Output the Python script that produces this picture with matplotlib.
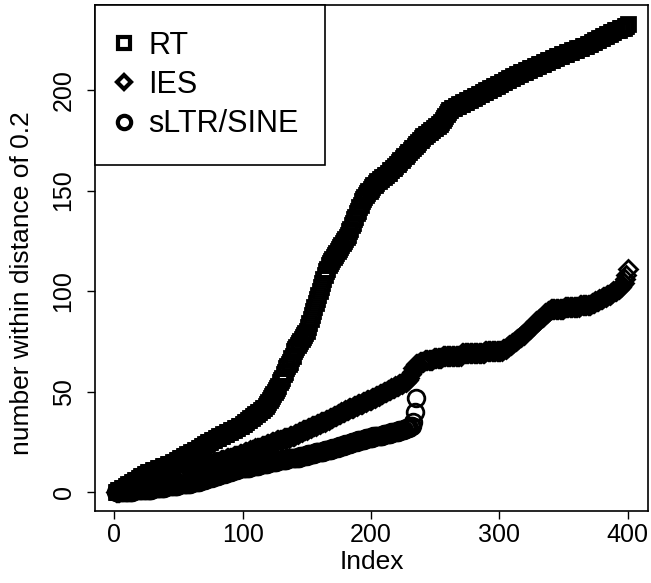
import matplotlib
matplotlib.use('Agg')
import matplotlib.pyplot as plt
from matplotlib.lines import Line2D
import numpy as np

# values, one per index
rt = [0, 0, 1, 1, 1, 2, 2, 2, 3, 3,
      4, 4, 4, 5, 5, 6, 6, 6, 7, 7, 8, 8, 8, 9,
      9, 10, 10, 10, 10, 11, 11, 11, 11, 12, 12, 12, 12, 13, 13, 13, 13, 14, 14, 14, 14, 15, 15, 15, 16, 16,
      17, 17, 17, 18, 18, 18, 19, 19, 19, 20, 20, 20, 21, 21, 21, 22, 22, 23, 23, 23, 24, 24, 25,
      25, 25, 26, 26, 26, 27, 27, 27, 28, 28, 28, 29, 29, 29, 30, 30, 30, 31, 31, 31, 32, 32, 32, 33, 33, 33,
      34, 34, 35, 35, 36, 36, 37, 37, 38, 38, 39, 39, 40, 40, 41, 41, 42, 42, 43, 44,
      45, 46, 47, 48, 49, 50, 51, 52, 53, 55, 56, 57, 59,
      60, 62, 63, 64, 65, 67, 68, 70,
      71, 72, 73, 74, 75, 76, 77, 78, 79, 80,
      82, 84, 86, 88, 90, 92, 94, 96,
      98, 100, 102, 104, 106, 108, 110, 111, 113,
      114, 115, 116, 117, 118, 119, 120, 121, 122, 123, 124, 125, 126, 127, 128, 130,
      131, 133, 134, 136, 137, 139, 140, 142, 143, 145, 146,
      147, 148, 149, 150, 150, 151, 152, 153, 153, 154, 155,
      155, 156, 156, 157, 157, 158, 158, 159, 159, 160, 160, 161, 161, 162,
      163, 163, 164, 165, 165, 166, 167, 167, 168, 169, 169, 170, 171, 171, 172, 173, 173, 174, 175, 175,
      176, 177, 177, 178, 178, 179,
      179, 180, 180, 181, 181, 182, 182, 183, 183, 184,
      185, 186, 187, 188, 189, 190, 190,
      191, 191, 191, 192, 192, 192, 193, 193, 193,
      194, 194, 194, 195, 195, 195, 196, 196, 196, 197, 197, 197, 198, 198, 198, 199, 199, 199, 200, 200,
      200, 201, 201, 201, 202, 202,
      202, 203, 203, 203, 204, 204, 204, 205, 205, 205, 206, 206, 206, 207, 207, 207, 208, 208, 208, 209,
      209, 209, 209,
      210, 210, 210, 211, 211, 211, 211, 212, 212, 212, 213, 213, 213, 213, 214, 214, 214, 215, 215, 215,
      215, 216, 216, 216, 217, 217, 217, 217,
      218, 218, 218, 218, 219, 219, 219, 219, 220, 220, 220, 220, 221, 221, 221, 221, 222, 222, 222, 222,
      223, 223, 223,
      224, 224, 224, 225, 225, 225, 226, 226, 226, 227, 227, 227, 228, 228, 228, 229, 229, 229, 230, 230,
      230, 230, 231, 231, 231, 231,
      232, 232, 233]

ies = [0, 0, 0, 0, 1, 1, 1, 1, 1, 2, 2, 2, 2, 2, 3, 3, 3, 3, 4, 4, 4, 4, 5, 5,
       5, 5, 5, 5, 6, 6, 6, 6, 6, 6, 7, 7, 7, 7, 7, 7, 8, 8, 8, 8, 8, 8, 9, 9, 9, 9,
       9, 9, 10, 10, 10, 10, 10, 11, 11, 11, 11, 11, 12, 12, 12, 12, 12, 13, 13, 13, 13, 13, 14, 14,
       14, 14, 14, 15, 15, 15, 15, 15, 16, 16,
       16, 16, 16, 17, 17, 17, 17, 17, 18, 18, 18, 18, 18, 19, 19, 19,
       19, 20, 20, 20, 20, 21, 21, 21, 21, 22, 22, 22, 22, 22, 23, 23, 23, 23, 24, 24, 24, 24, 25, 25,
       25, 25, 26, 26, 26,
       26, 26, 27, 27, 27, 27, 27, 28, 28, 28, 28,
       29, 29, 29, 30, 30, 30, 31, 31, 31, 31, 32, 32, 32, 33, 33, 33, 33, 34, 34, 34, 35, 35, 35, 35,
       36, 36, 36,
       37, 37, 37, 38, 38, 38, 39, 39, 39, 40, 40, 40, 41, 41, 41, 42, 42, 42, 42, 43, 43, 43, 44, 44,
       44, 44, 45, 45, 45, 46, 46, 46, 46,
       47, 47, 47, 48, 48, 48, 49, 49, 49, 50, 50, 50, 51, 51, 51, 52, 52, 52, 53, 53, 53, 54, 54, 54,
       55, 55, 55, 56, 56, 57,
       59, 60, 62, 63, 64,
       64, 64, 65, 65, 65, 65, 66, 66, 66, 66,
       66, 66, 66, 67, 67, 67, 67, 67, 67, 67, 68, 68, 68, 68, 68,
       68, 68, 68, 68, 68, 68, 68, 68, 68, 68,
       69, 69, 69, 69, 69, 69, 69, 69, 69, 69, 69, 69, 69, 69, 69, 69, 69, 69,
       70, 70, 70, 70, 70, 70, 70, 70, 70, 70, 70, 70,
       70, 70, 71, 71, 71,
       72, 72, 73, 73, 74, 74, 75, 75, 76, 76,
       77, 77, 78, 78, 79, 80, 80, 81, 81, 82,
       83, 83, 84, 85, 85, 86, 86, 87, 87, 88,
       89, 89, 90, 90, 91,
       91, 91, 91, 91, 91, 91, 91, 91, 91, 91,
       92, 92, 92, 92, 92, 92, 92, 92, 92, 92, 92, 92,
       93, 93, 93, 93, 93, 93, 93, 93,
       93, 94, 94, 94, 95, 95, 95, 96, 96, 96,
       97, 97, 97, 98, 98, 98, 99, 99, 100, 100,
       100, 101, 101, 102, 102, 103,
       104, 106, 108, 111]

sltr = [0, 0, 0, 0, 0, 0, 0, 0, 0, 0, 0, 0, 0, 0, 1, 1, 1, 1, 1, 1, 1, 1, 1, 1,
        1, 1, 1, 1, 1, 2, 2, 2, 2, 2, 2, 2, 2, 2, 2, 3, 3, 3, 3, 3, 3, 3, 3, 3, 3,
        4, 4, 4, 4, 4, 4, 4, 4, 4, 4, 5, 5, 5, 5,
        5, 5, 5, 6, 6, 6, 6, 6, 7, 7, 7, 7, 7, 8, 8, 8, 8, 8, 9, 9, 9, 9, 9,
        10, 10, 10, 10, 10, 11, 11, 11, 11, 11, 12, 12, 12,
        12, 12, 12, 12, 12, 12, 13, 13, 13, 13, 13, 13, 13, 14, 14, 14, 14, 14, 14, 14,
        15, 15, 15, 15, 15, 15, 15, 16, 16, 16,
        16, 16, 16, 16, 16, 17, 17, 17, 17, 17, 17,
        17, 17, 17, 17, 18, 18, 18, 18, 18, 18, 19, 19, 19, 19, 19, 19, 20, 20, 20, 20, 20, 20, 20,
        21, 21, 21, 21,
        21, 21, 22, 22, 22, 22, 22, 23, 23, 23, 23, 23, 24, 24, 24, 24, 24, 25, 25, 25, 25, 25,
        26, 26, 26, 26, 26, 26, 27, 27, 27, 27, 27, 27, 28, 28, 28, 28, 28,
        28, 28, 28, 29, 29, 29, 29, 29, 29, 30, 30, 30, 30, 30, 30, 31, 31, 31, 31,
        31, 32, 32, 32, 32, 33, 33, 35, 40, 47]

labels = ['RT', 'IES', 'sLTR/SINE']
markers = ['s', 'D', 'o']
msizes = [10, 9, 12]

xticks = [0, 100, 200, 300, 400]
yticks = [0, 50, 100, 150, 200]


def r_range(lo, hi):
    # R pads the data range by 4% on each side
    d = (hi - lo) * 0.04
    return lo - d, hi + d


def main():
    plt.rcParams['font.family'] = ['Liberation Sans', 'DejaVu Sans']
    fig = plt.figure(figsize=(6.51, 5.83), dpi=100)
    ax = fig.add_axes([0.146, 0.1235, 0.8494, 0.868])

    series = [rt, ies, sltr]
    for vals, m, ms in zip(series, markers, msizes):
        idx = np.arange(1, len(vals) + 1)
        ax.plot(idx, vals, linestyle='none', marker=m, markersize=ms,
                markerfacecolor='none', markeredgecolor='black', markeredgewidth=2)

    ax.set_xlim(*r_range(1, 400))
    ax.set_ylim(*r_range(0, max(rt)))
    ax.set_xticks(xticks)
    ax.set_yticks(yticks)
    ax.tick_params(direction='out', length=6, width=1, labelsize=18, color='black')
    ax.tick_params(axis='x', pad=3)
    ax.tick_params(axis='y', pad=8)
    for t in ax.get_yticklabels():
        t.set_rotation(90)
        t.set_va('center')
    for s in ax.spines.values():
        s.set_linewidth(1.2)

    ax.set_xlabel('Index', fontsize=19, labelpad=2)
    ax.set_ylabel('number within distance of 0.2', fontsize=19)
    ax.yaxis.set_label_coords(-0.11, 0.45)

    handles = [Line2D([], [], linestyle='none', marker=m, markersize=ms * 0.8,
                      markerfacecolor='none', markeredgecolor='black', markeredgewidth=3)
               for m, ms in zip(markers, msizes)]
    leg = ax.legend(handles, labels, loc='upper left', borderaxespad=0,
                    prop={'family': 'Liberation Sans', 'size': 22},
                    fancybox=False, framealpha=1, edgecolor='black',
                    borderpad=0.85, labelspacing=0.3, handlelength=0.2, handletextpad=0.7)
    leg.get_frame().set_linewidth(1.2)

    fig.savefig('out.png', dpi=100)


if __name__ == '__main__':
    main()
